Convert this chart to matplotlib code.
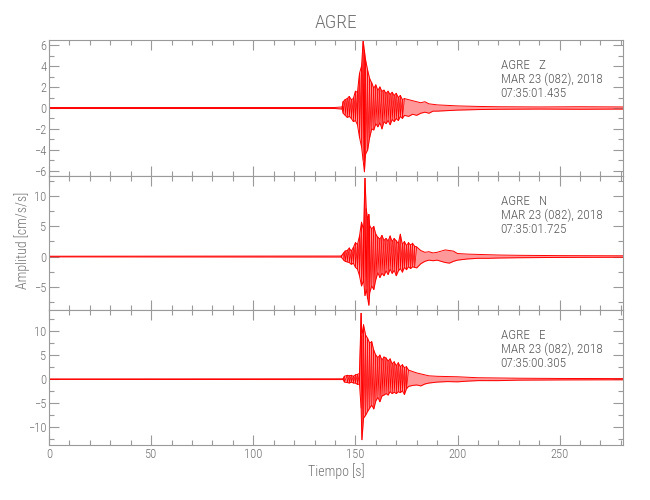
"""
Acelerograma de la estacion AGRE (componentes Z, N, E).
"""

import matplotlib
matplotlib.use("Agg")
import matplotlib.pyplot as plt
from matplotlib import font_manager
from matplotlib.ticker import MultipleLocator

# envolventes: tiempo [s], maximo y minimo [cm/s/s]
t_z = [0, 140, 143.5, 144, 145, 146, 147, 148, 149, 150, 151, 152, 153, 153.8, 154.4,
       155, 156, 157, 158, 159, 160, 161, 162, 163, 164, 165, 166, 167, 168, 169, 170,
       171, 172, 173, 174, 176, 178, 180, 182, 184, 186, 188, 190, 195, 200, 210, 220,
       240, 260, 281]
up_z = [0.05, 0.05, 0.1, 0.6, 0.8, 0.9, 1.1, 0.8, 0.9, 1.6, 1.5, 3.3, 4.0, 6.4, 5.5,
        4.6, 3.6, 2.8, 2.4, 1.9, 2.2, 1.7, 2.0, 1.6, 1.7, 1.4, 1.6, 1.3, 1.5, 1.2, 1.4,
        1.0, 1.2, 0.8, 0.9, 0.8, 0.7, 0.6, 0.5, 0.6, 0.4, 0.35, 0.3, 0.25, 0.2, 0.15, 0.12,
        0.1, 0.12, 0.1]
lo_z = [-0.05, -0.05, -0.1, -0.5, -0.7, -0.9, -0.8, -1.0, -1.3, -1.2, -1.6, -2.8, -3.7, -5.0, -6.1,
        -4.4, -4.0, -2.8, -2.0, -2.1, -1.5, -1.8, -1.4, -2.0, -1.3, -1.5, -1.2, -1.6, -1.1, -1.3, -1.0,
        -1.2, -0.8, -1.0, -0.7, -0.8, -0.6, -0.7, -0.5, -0.4, -0.5, -0.3, -0.3, -0.25, -0.2, -0.15, -0.12,
        -0.1, -0.12, -0.1]

t_n = [0, 143, 144.3, 145, 146, 147, 148, 149, 150, 151, 152, 153, 154, 154.7, 155.3,
       156, 156.6, 157, 158, 159, 160, 161, 162, 163, 164, 165, 166, 167, 168, 169, 170,
       171, 172, 173, 174, 175, 176, 177, 178, 179, 180, 182, 184, 186, 188, 190, 192,
       194, 196, 198, 200, 205, 210, 215, 220, 230, 250, 281]
up_n = [0.05, 0.08, 0.6, 0.9, 1.0, 1.4, 0.9, 1.5, 2.3, 2.0, 3.4, 5.7, 4.5, 13.0, 7.9,
        6.2, 7.0, 5.1, 4.6, 5.0, 3.7, 3.2, 2.9, 3.5, 2.7, 3.0, 2.6, 3.4, 2.5, 3.0, 2.6,
        2.2, 3.7, 2.0, 2.5, 1.8, 2.3, 1.9, 2.2, 1.7, 1.6, 1.0, 0.7, 0.8, 0.6, 0.7, 0.9,
        1.1, 1.0, 0.9, 0.5, 0.4, 0.35, 0.3, 0.25, 0.2, 0.15, 0.12]
lo_n = [-0.05, -0.08, -0.6, -0.8, -0.9, -1.0, -1.3, -1.1, -1.8, -2.1, -3.2, -4.9, -4.0, -6.5, -5.5,
        -7.0, -8.1, -6.0, -4.9, -5.5, -3.8, -2.7, -3.5, -2.8, -3.2, -2.4, -3.0, -2.1, -2.8, -2.3, -3.2,
        -2.4, -2.0, -2.6, -1.8, -2.2, -1.7, -2.0, -1.7, -1.8, -1.9, -1.2, -0.8, -0.6, -0.7, -0.6, -0.8,
        -1.0, -1.1, -0.8, -0.6, -0.4, -0.3, -0.3, -0.25, -0.2, -0.15, -0.12]

t_e = [0, 144, 144.6, 146, 147, 148, 149, 150, 151, 152, 152.8, 153.2, 154, 155, 156,
       157, 158, 159, 160, 161, 162, 163, 164, 165, 166, 167, 168, 169, 170, 171, 172,
       173, 174, 175, 176, 178, 180, 182, 184, 186, 190, 195, 200, 205, 210, 220, 230,
       250, 281]
up_e = [0.05, 0.08, 0.6, 0.8, 0.7, 0.8, 0.6, 0.9, 1.0, 1.2, 13.7, 9.0, 11.3, 9.2, 8.5,
        7.5, 7.8, 6.0, 5.0, 4.5, 5.0, 4.0, 4.6, 4.4, 3.8, 4.2, 3.2, 3.6, 2.8, 3.4, 2.6,
        3.0, 2.4, 2.6, 1.9, 1.6, 1.3, 1.1, 0.9, 0.7, 0.6, 0.55, 0.5, 0.4, 0.3, 0.25, 0.2,
        0.15, 0.12]
lo_e = [-0.05, -0.08, -0.6, -0.7, -0.8, -0.6, -0.8, -0.8, -1.1, -1.0, -6.0, -12.6, -8.1, -7.5, -6.7,
        -6.0, -5.4, -6.2, -4.5, -3.8, -4.7, -3.5, -3.3, -3.0, -3.3, -2.6, -3.0, -2.7, -3.0, -2.6, -2.8,
        -2.4, -3.2, -2.0, -1.5, -1.3, -1.2, -1.4, -1.0, -0.8, -0.6, -0.5, -0.55, -0.4, -0.3, -0.3, -0.2,
        -0.15, -0.12]

components = ["Z", "N", "E"]
start_times = ["07:35:01.435", "07:35:01.725", "07:35:00.305"]
date_str = "MAR 23 (082), 2018"
station = "AGRE"

TXT = "#707070"
AX = "#9a9a9a"

# fuente estrecha si existe alguna instalada
installed = {f.name for f in font_manager.fontManager.ttflist}
FONT = [f for f in ["Liberation Sans Narrow", "DejaVu Sans Condensed", "Roboto Condensed"]
        if f in installed] + ["DejaVu Sans"]
plt.rcParams["font.family"] = FONT
plt.rcParams["font.stretch"] = "condensed"
plt.rcParams["font.weight"] = "light"
plt.rcParams["axes.labelweight"] = "light"
plt.rcParams["text.color"] = TXT

fig = plt.figure(figsize=(6.5, 5.0), dpi=100)
left, width = 0.0754, 0.883
panels = [
    (0.648, 0.272, (-6.5, 6.5), 2, 1),
    (0.380, 0.268, (-8.9, 13.4), 5, 2.5),
    (0.110, 0.270, (-13.7, 14.4), 5, 2.5),
]
traces = [(t_z, up_z, lo_z), (t_n, up_n, lo_n), (t_e, up_e, lo_e)]

for i, (bottom, height, ylim, major, minor) in enumerate(panels):
    ax = fig.add_axes([left, bottom, width, height])
    t, up, lo = traces[i]
    ax.fill_between(t, lo, up, color="red", alpha=0.4, lw=0)
    ax.plot(t, up, color="red", lw=0.7)
    ax.plot(t, lo, color="red", lw=0.7)
    # zigzag entre maximo y minimo, solo donde las lecturas son densas
    for k in range(len(t) - 1):
        if t[k + 1] - t[k] <= 1.5:
            ax.plot([t[k], t[k], t[k + 1]], [up[k], lo[k], up[k + 1]],
                    color="red", lw=0.55)

    ax.set_xlim(0, 281)
    ax.set_ylim(*ylim)
    ax.xaxis.set_major_locator(MultipleLocator(50))
    ax.xaxis.set_minor_locator(MultipleLocator(10))
    ax.yaxis.set_major_locator(MultipleLocator(major))
    ax.yaxis.set_minor_locator(MultipleLocator(minor))
    ax.tick_params(which="both", direction="in", top=True, right=True,
                   color=AX, labelcolor=TXT, labelsize=9, width=0.8)
    ax.tick_params(which="major", length=7, pad=2)
    ax.tick_params(which="minor", length=3.5)
    for sp in ax.spines.values():
        sp.set_color(AX)
        sp.set_linewidth(0.8)
    if i < 2:
        ax.set_xticklabels([])
    else:
        ax.set_xlabel("Tiempo [s]", fontsize=10, color=TXT, labelpad=2,
                      fontweight="light")

    ax.text(0.787, 0.86, "%s   %s\n%s\n%s" % (station, components[i], date_str, start_times[i]),
            transform=ax.transAxes, fontsize=9.5, color="#555555", va="top", ha="left",
            linespacing=1.1)

fig.text(0.517, 0.955, station, fontsize=14, color=TXT, ha="center", va="center")
fig.text(0.034, 0.52, "Amplitud [cm/s/s]", fontsize=10, color=TXT,
         rotation=90, ha="center", va="center")

fig.savefig("out.png", dpi=100)
